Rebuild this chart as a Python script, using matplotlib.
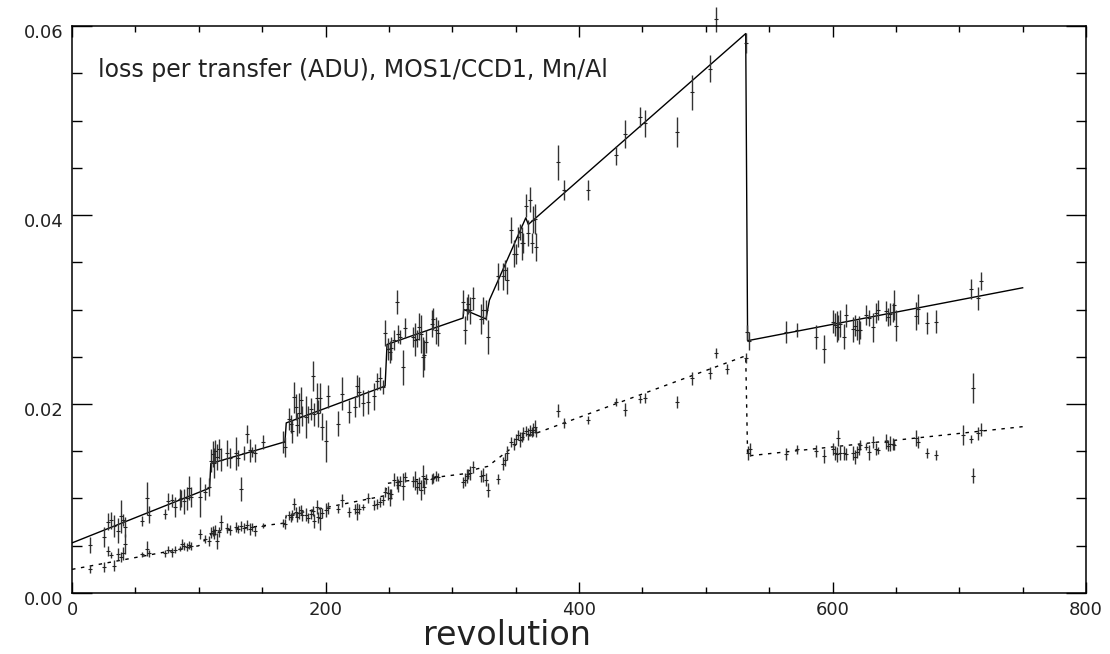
import matplotlib
matplotlib.use("Agg")
import matplotlib.pyplot as plt
import matplotlib.transforms as mtransforms
from matplotlib.ticker import MultipleLocator, FormatStrFormatter

# upper series (solid fit): revolution, loss, error
rev_up = [14.5, 25.5, 28, 31, 33, 36, 38.7, 40, 41.5, 55, 59.5, 61, 73, 76, 79, 81.5,
          85, 86, 88.6, 90.5, 92.6, 94, 101, 105, 108, 110, 111, 112, 113, 114.5, 116,
          117.5, 122, 125, 129, 131, 133.6, 136, 138.4, 140.4, 142, 144.3, 150.4,
          166.7, 168.3, 171, 172.5, 173.8, 175, 176.4, 177.7, 179, 180.4, 181.7, 184.3,
          186.4, 188.5, 190.4, 191, 193, 194.3, 195.6, 197, 200.4, 202.2, 209.6, 213.2,
          218.5, 223.2, 225, 226.7, 229.3, 233.2, 238.2, 240.9, 243, 245, 247.2, 249.5,
          251, 252, 254, 256, 257.4, 258.7, 261.4, 262.6, 268.8, 270.6, 272.5, 274,
          275.4, 276.7, 277.7, 279.3, 283.8, 285.1, 287.2, 288.8, 308.2, 310, 311.4,
          312.7, 314, 316.7, 322.7, 324.6, 326.7, 328, 336.4, 340.3, 341.6, 343.5,
          346.4, 348.7, 350.3, 352.2, 353.5, 354.8, 356.1, 358.2, 359.5, 361.4, 362.7,
          364, 365.3, 366, 383.5, 388, 407, 429, 436, 448, 452, 477, 489, 503, 508,
          531.5, 532.3, 534.2, 563.4, 571.8, 587, 593.1, 600.2, 602, 603.3, 604.6, 606,
          609.1, 610.7, 616, 617.8, 619.1, 620.7, 621.7, 626.2, 628.8, 631.7, 634.1,
          635.7, 642, 643.6, 645.4, 647.5, 648.8, 649.9, 665.9, 667.8, 674.9, 681.9,
          709, 711.2, 714.6, 717]
loss_up = [0.00508, 0.00596, 0.00755, 0.0077, 0.0071, 0.0066, 0.0081, 0.0077, 0.0070,
           0.0076, 0.0100, 0.0083, 0.0084, 0.0097, 0.0098, 0.0091, 0.0099, 0.0100,
           0.0097, 0.0100, 0.0111, 0.0102, 0.0102, 0.0107, 0.0112, 0.0140, 0.0147,
           0.0138, 0.0150, 0.0144, 0.0152, 0.0141, 0.0148, 0.0143, 0.0148, 0.0143,
           0.0110, 0.0148, 0.0168, 0.0151, 0.0149, 0.0148, 0.0160, 0.0160, 0.0155,
           0.0184, 0.0179, 0.0171, 0.0207, 0.0197, 0.0178, 0.0190, 0.0204, 0.0187,
           0.0186, 0.0189, 0.0195, 0.0230, 0.0189, 0.0206, 0.0190, 0.0206, 0.0176,
           0.0161, 0.0208, 0.0179, 0.0211, 0.0192, 0.0197, 0.0219, 0.0213, 0.0201,
           0.0202, 0.0208, 0.0224, 0.0227, 0.0218, 0.0275, 0.0258, 0.0255, 0.0259,
           0.0268, 0.0308, 0.0274, 0.0271, 0.0239, 0.0280, 0.0271, 0.0268, 0.0269,
           0.0282, 0.0274, 0.0250, 0.0252, 0.0266, 0.0285, 0.0290, 0.0278, 0.0275,
           0.0308, 0.0278, 0.0301, 0.0306, 0.0299, 0.0312, 0.0290, 0.0299, 0.0299,
           0.0271, 0.0335, 0.0335, 0.0342, 0.0331, 0.0384, 0.0359, 0.0359, 0.0377,
           0.0382, 0.0370, 0.0370, 0.0410, 0.0381, 0.0416, 0.0370, 0.0395, 0.0396,
           0.0366, 0.0456, 0.0426, 0.0426, 0.0463, 0.0486, 0.0504, 0.0497, 0.0488,
           0.0530, 0.0555, 0.0607, 0.0582, 0.0276, 0.0267, 0.0276, 0.0278, 0.0271,
           0.0258, 0.0287, 0.0284, 0.0282, 0.0281, 0.0285, 0.0271, 0.0294, 0.0279,
           0.0283, 0.0278, 0.0278, 0.0278, 0.0294, 0.0291, 0.0281, 0.0296, 0.0299,
           0.0298, 0.0292, 0.0295, 0.0297, 0.0305, 0.0283, 0.0293, 0.0301, 0.0286,
           0.0287, 0.0322, 0.0217, 0.0312, 0.0330]
err_up = [0.00088, 0.00106, 0.00088, 0.00088, 0.00115, 0.00132, 0.00176, 0.00062,
          0.00106, 0.00053, 0.00176, 0.00088, 0.00053, 0.00088, 0.00071, 0.00106,
          0.00115, 0.00088, 0.00132, 0.00123, 0.00127, 0.00106, 0.00212, 0.00088,
          0.00097, 0.00123, 0.00141, 0.00159, 0.00123, 0.00141, 0.00106, 0.00123,
          0.00141, 0.00106, 0.00176, 0.00088, 0.00123, 0.00071, 0.00097, 0.00123,
          0.00053, 0.00097, 0.00071, 0.00115, 0.00106, 0.00115, 0.00097, 0.00123,
          0.00168, 0.00141, 0.00123, 0.00212, 0.00141, 0.00106, 0.0022, 0.00088,
          0.00115, 0.00159, 0.00123, 0.00159, 0.00141, 0.00159, 0.00141, 0.0022,
          0.00123, 0.00132, 0.00176, 0.00123, 0.00106, 0.00115, 0.00159, 0.00141,
          0.00123, 0.00141, 0.00088, 0.00123, 0.00071, 0.00141, 0.00115, 0.00115,
          0.00123, 0.00106, 0.00123, 0.00097, 0.00071, 0.00185, 0.00106, 0.00106,
          0.00176, 0.00088, 0.00141, 0.00203, 0.00212, 0.00159, 0.00123, 0.00141,
          0.00115, 0.00141, 0.00141, 0.00123, 0.0015, 0.00123, 0.00106, 0.00141,
          0.00123, 0.00159, 0.00141, 0.00106, 0.00176, 0.00141, 0.00141, 0.00106,
          0.00141, 0.00141, 0.00141, 0.00106, 0.00106, 0.00088, 0.00176, 0.00106,
          0.00123, 0.00141, 0.00132, 0.00106, 0.00141, 0.00159, 0.0015, 0.00185,
          0.00106, 0.00106, 0.00097, 0.0015, 0.00106, 0.00141, 0.00159, 0.00185,
          0.00141, 0.00132, 0.00106, 0.00079, 0.00097, 0.00115, 0.00074, 0.00123,
          0.0015, 0.00123, 0.00123, 0.00159, 0.00132, 0.00141, 0.00132, 0.00123,
          0.00132, 0.00115, 0.00106, 0.0015, 0.00097, 0.00106, 0.00088, 0.0015,
          0.00106, 0.00106, 0.00106, 0.00097, 0.00115, 0.00097, 0.00159, 0.00168,
          0.0015, 0.00159, 0.00115, 0.00123, 0.00106, 0.00159, 0.00123, 0.00097]

# lower series (dashed fit)
rev_lo = [14.5, 25.5, 28, 31, 33, 36, 38.7, 40, 41.5, 55, 59.5, 61, 73, 76, 79, 81.5,
          85, 86.8, 88.6, 90.5, 92.6, 94, 101, 105, 108, 110, 111, 112, 113, 114.5, 116,
          117.5, 122, 125, 129, 131, 133.6, 136, 138.4, 140.4, 142, 144.3, 150.4,
          166.7, 168.3, 171, 172.5, 173.8, 175, 176.4, 177.7, 179, 180.4, 181.7, 184.3,
          186.4, 188.5, 190.4, 191, 193, 194.3, 195.6, 197, 200.4, 202.2, 209.6, 213.2,
          218.5, 223.2, 225, 226.7, 229.3, 233.2, 238.2, 240.9, 243, 245, 247.2, 249.5,
          251, 252, 254, 256, 257.4, 258.7, 261.4, 262.6, 268.8, 270.6, 272.5, 274,
          275.4, 276.7, 277.7, 279.3, 283.8, 285.1, 287.2, 288.8, 308.2, 310, 311.4,
          312.7, 314, 316.7, 322.7, 324.6, 326.7, 328, 336.4, 340.3, 341.6, 343.5,
          346.4, 348.7, 350.3, 352.2, 353.5, 354.8, 356.1, 358.2, 359.5, 361.4, 362.7,
          364, 365.3, 366, 383.5, 388, 407, 429, 436, 448, 452, 477, 489, 503, 508,
          517, 531.5, 533.5, 534.5, 563.4, 571.8, 587, 593.1, 600.2, 602, 603.3, 604.6,
          606, 609.1, 610.7, 616, 617.8, 619.1, 620.7, 621.7, 626.2, 628.8, 631.7,
          634.1, 635.7, 642, 643.6, 645.4, 647.5, 648.8, 665.9, 667.8, 674.9, 681.9,
          702.8, 709, 711.2, 714.6, 717]
loss_lo = [0.00255, 0.0028, 0.0044, 0.0040, 0.0029, 0.0041, 0.0038, 0.0042, 0.0052,
           0.0041, 0.0047, 0.0042, 0.0042, 0.0046, 0.0043, 0.0046, 0.0047, 0.0052,
           0.0050, 0.0049, 0.0051, 0.0050, 0.0062, 0.0057, 0.0055, 0.0064, 0.0066,
           0.0062, 0.0067, 0.0055, 0.0065, 0.0075, 0.0069, 0.0067, 0.0070, 0.0068,
           0.0071, 0.0069, 0.0072, 0.0068, 0.0070, 0.0066, 0.0071, 0.0074, 0.0073,
           0.0082, 0.0080, 0.0083, 0.0094, 0.0086, 0.0080, 0.0085, 0.0088, 0.0082,
           0.0083, 0.0079, 0.0084, 0.0087, 0.0076, 0.0091, 0.0080, 0.0079, 0.0085,
           0.0088, 0.0090, 0.0089, 0.0098, 0.0086, 0.0089, 0.0086, 0.0089, 0.0091,
           0.0100, 0.0093, 0.0094, 0.0096, 0.0098, 0.0107, 0.0106, 0.0101, 0.0105,
           0.0120, 0.0117, 0.0114, 0.0118, 0.0113, 0.0123, 0.0118, 0.0119, 0.0112,
           0.0116, 0.0109, 0.0124, 0.0112, 0.0121, 0.0121, 0.0122, 0.0124, 0.0123,
           0.0117, 0.0120, 0.0124, 0.0126, 0.0127, 0.0133, 0.0124, 0.0125, 0.0120,
           0.0109, 0.0121, 0.0137, 0.0141, 0.0148, 0.0160, 0.0158, 0.0163, 0.0167,
           0.0162, 0.0165, 0.0169, 0.0171, 0.0168, 0.0172, 0.0170, 0.0173, 0.0176,
           0.0170, 0.0193, 0.0180, 0.0183, 0.0202, 0.0194, 0.0205, 0.0206, 0.0202,
           0.0227, 0.0233, 0.0254, 0.0237, 0.0249, 0.0148, 0.0152, 0.0147, 0.0152,
           0.0150, 0.0145, 0.0152, 0.0148, 0.0147, 0.0164, 0.0148, 0.0148, 0.0147,
           0.0148, 0.0144, 0.0149, 0.0152, 0.0157, 0.0155, 0.0149, 0.0160, 0.0152,
           0.0151, 0.0160, 0.0156, 0.0158, 0.0158, 0.0157, 0.0164, 0.0160, 0.0148,
           0.0146, 0.0167, 0.0163, 0.0124, 0.0169, 0.0173]
err_lo = [0.00044, 0.00053, 0.00053, 0.00035, 0.00062, 0.00062, 0.00053, 0.00071,
          0.00106, 0.00026, 0.00079, 0.00035, 0.00035, 0.00035, 0.00044, 0.00035,
          0.00026, 0.00053, 0.00044, 0.00044, 0.00044, 0.00044, 0.00053, 0.00044,
          0.00053, 0.00053, 0.00053, 0.00053, 0.00053, 0.00088, 0.00053, 0.00079,
          0.00053, 0.00053, 0.00053, 0.00044, 0.00053, 0.00053, 0.00053, 0.00062,
          0.00044, 0.00053, 0.00026, 0.00044, 0.00053, 0.00044, 0.00044, 0.00053,
          0.00062, 0.00053, 0.00053, 0.00071, 0.00053, 0.00053, 0.00071, 0.00053,
          0.00053, 0.00053, 0.00071, 0.00071, 0.00062, 0.00123, 0.00053, 0.00071,
          0.00062, 0.00044, 0.00071, 0.00053, 0.00053, 0.00088, 0.00053, 0.00035,
          0.00053, 0.00053, 0.00053, 0.00053, 0.00053, 0.00053, 0.00071, 0.00088,
          0.00053, 0.00071, 0.00071, 0.00071, 0.00053, 0.00141, 0.00053, 0.00062,
          0.00097, 0.00071, 0.00071, 0.00106, 0.00115, 0.00071, 0.00053, 0.00053,
          0.00053, 0.00053, 0.00044, 0.00062, 0.00071, 0.00071, 0.00053, 0.00071,
          0.00062, 0.00062, 0.00071, 0.00071, 0.00071, 0.00053, 0.00071, 0.00071,
          0.00071, 0.00053, 0.00062, 0.00053, 0.00053, 0.00079, 0.00053, 0.00071,
          0.00053, 0.00062, 0.00062, 0.00053, 0.00071, 0.00071, 0.00053, 0.00071,
          0.00053, 0.00044, 0.00044, 0.00071, 0.00044, 0.00053, 0.00062, 0.00071,
          0.00062, 0.00053, 0.00053, 0.00053, 0.00071, 0.00071, 0.00062, 0.00044,
          0.00062, 0.00079, 0.00062, 0.00071, 0.00079, 0.00088, 0.00071, 0.00071,
          0.00062, 0.00071, 0.00071, 0.00062, 0.00062, 0.00053, 0.00035, 0.00079,
          0.00062, 0.00062, 0.00035, 0.00079, 0.00062, 0.00079, 0.00062, 0.00053,
          0.00088, 0.00062, 0.00053, 0.00053, 0.00106, 0.00044, 0.00079, 0.00071,
          0.00071]

# piecewise fits
fit_up_x = [0, 108.5, 109.5, 168, 169, 247, 248.5, 308.5, 309, 326.6, 329.3, 358, 360,
            531.5, 533, 750]
fit_up_y = [0.0053, 0.0111, 0.0137, 0.0160, 0.0180, 0.0219, 0.0263, 0.0291, 0.0300,
            0.0290, 0.0310, 0.0397, 0.0390, 0.0592, 0.0267, 0.0323]
fit_lo_x = [0, 100, 112, 168, 169, 247, 248.5, 308.5, 309, 328, 358, 360, 531.5, 533,
            750]
fit_lo_y = [0.0025, 0.0050, 0.0065, 0.0074, 0.0082, 0.0103, 0.0116, 0.0126, 0.0128,
            0.0134, 0.0165, 0.0166, 0.0251, 0.0145, 0.0176]

title = "loss per transfer (ADU), MOS1/CCD1, Mn/Al"


def main():
    plt.rcParams["font.family"] = ["DejaVu Sans"]
    fig = plt.figure(figsize=(11.1, 6.54), dpi=100)
    ax = fig.add_axes([0.0649, 0.0933, 0.9135, 0.8669])

    ax.plot(fit_up_x, fit_up_y, color="k", lw=1.0)
    ax.plot(fit_lo_x, fit_lo_y, color="k", lw=1.0, ls=(0, (2.5, 4)))

    for x, y, e in ((rev_up, loss_up, err_up), (rev_lo, loss_lo, err_lo)):
        eb = ax.errorbar(x, y, yerr=e, fmt="_", ms=3, mew=0.8, color="#222222",
                         ecolor="#333333", elinewidth=1.0, capsize=0)
        eb[0].set_clip_on(False)
        for c in eb[2]:
            c.set_clip_on(False)

    ax.set_xlim(0, 800)
    ax.set_ylim(0, 0.06)
    ax.xaxis.set_major_locator(MultipleLocator(200))
    ax.xaxis.set_minor_locator(MultipleLocator(50))
    ax.yaxis.set_major_locator(MultipleLocator(0.02))
    ax.yaxis.set_minor_locator(MultipleLocator(0.005))
    ax.yaxis.set_major_formatter(FormatStrFormatter("%.2f"))
    ax.tick_params(which="both", direction="in", top=True, right=True, width=1.0,
                   colors="k", labelsize=13, labelcolor="#222222")
    ax.tick_params(axis="x", which="major", length=8, pad=6)
    ax.tick_params(axis="x", which="minor", length=4.3)
    ax.tick_params(axis="y", which="major", length=14.4, pad=6)
    ax.tick_params(axis="y", which="minor", length=7.2)
    for s in ax.spines.values():
        s.set_linewidth(1.1)

    shift = mtransforms.ScaledTranslation(0, -5 / 100, fig.dpi_scale_trans)
    for lab in ax.get_yticklabels():
        lab.set_transform(lab.get_transform() + shift)

    ax.text(20.5, 0.0553, title, fontsize=17, color="#222222", va="center",
            ha="left")
    ax.set_xlabel("revolution", fontsize=24, color="#222222", va="baseline")
    ax.xaxis.set_label_coords(0.429, -0.0917)

    fig.savefig("out.png", dpi=100, facecolor="white")


if __name__ == "__main__":
    main()
